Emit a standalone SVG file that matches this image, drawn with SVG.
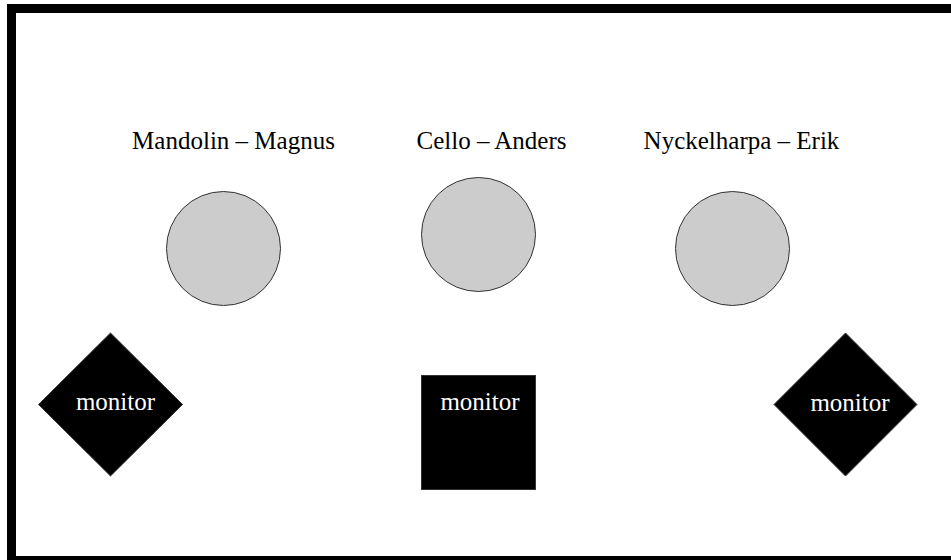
<svg xmlns="http://www.w3.org/2000/svg" width="951" height="560" viewBox="0 0 951 560">
<style>
text{font-family:'Liberation Serif','Times New Roman',Times,'DejaVu Serif',serif;font-size:25px;text-anchor:middle}
.lbl{fill:#000}
.mon{fill:#fff}
.musician{fill:#cccccc;stroke:#333;stroke-width:1}
.monitor{fill:#000;stroke:#333;stroke-width:1}
</style>
<rect id="stage" x="11.5" y="8.5" width="950" height="552" fill="#fff" stroke="#000" stroke-width="9"/>
<g id="mandolin">
<text class="lbl" x="233.5" y="149" font-family="Liberation Serif, serif">Mandolin – Magnus</text>
<circle class="musician" cx="223.5" cy="248.5" r="57"/>
</g>
<g id="cello">
<text class="lbl" x="491.5" y="149" font-family="Liberation Serif, serif">Cello – Anders</text>
<circle class="musician" cx="478.5" cy="234.5" r="57"/>
</g>
<g id="nyckelharpa">
<text class="lbl" x="741.5" y="149" font-family="Liberation Serif, serif">Nyckelharpa – Erik</text>
<circle class="musician" cx="732.5" cy="248.5" r="57"/>
</g>
<g id="monitor-left">
<polygon class="monitor" points="110.5,333 182.5,404.5 110.5,476 38.5,404.5"/>
<text class="mon" x="115.5" y="410" font-family="Liberation Serif, serif">monitor</text>
</g>
<g id="monitor-center">
<rect class="monitor" x="421.5" y="375.5" width="114" height="114"/>
<text class="mon" x="480" y="410" font-family="Liberation Serif, serif">monitor</text>
</g>
<g id="monitor-right">
<polygon class="monitor" points="845.5,333 917,404.5 845.5,476 774,404.5"/>
<text class="mon" x="850" y="410.5" font-family="Liberation Serif, serif">monitor</text>
</g>
<g id="connectors"></g>
</svg>
